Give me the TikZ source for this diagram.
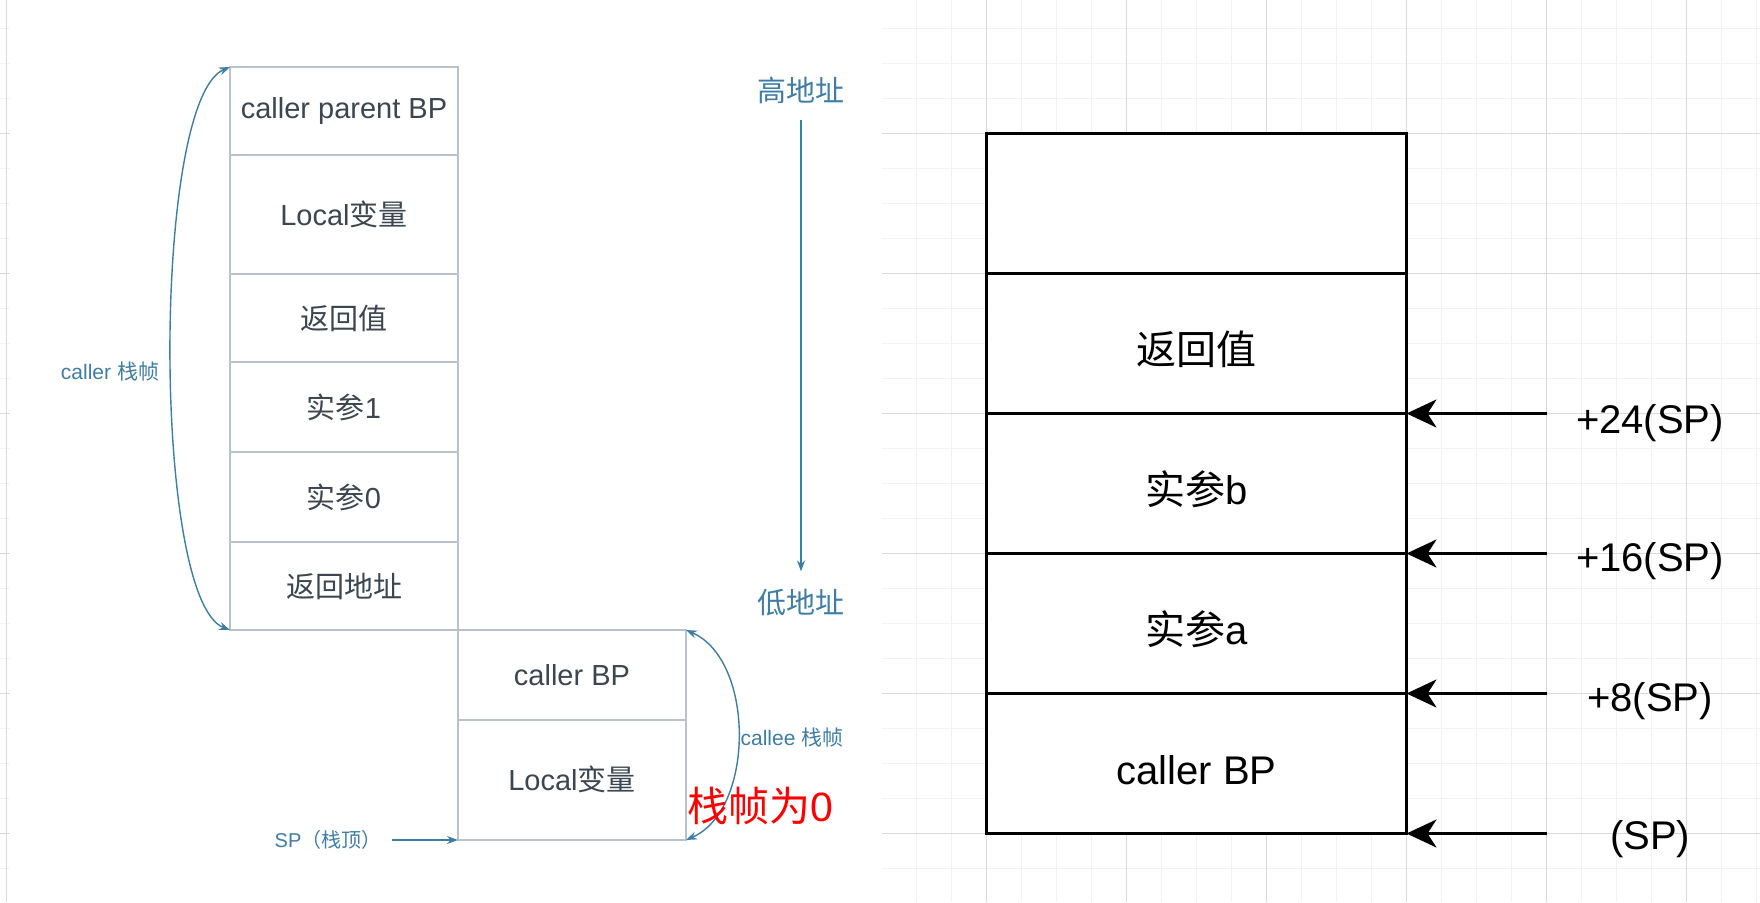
\documentclass[tikz,border=0pt]{standalone}
\usepackage{fontspec}
\setmainfont{Liberation Sans}
\newfontfamily\cjk{Noto Sans CJK SC}
\usetikzlibrary{arrows.meta}
\definecolor{lline}{HTML}{B7C2CA}
\definecolor{ltext}{HTML}{3B4650}
\definecolor{lblue}{HTML}{3E7DA6}
\definecolor{gminor}{HTML}{F2F2F2}
\definecolor{gmajor}{HTML}{D9D9D9}
\begin{document}
\begin{tikzpicture}[x=1pt,y=-1pt,
  lcell/.style={draw=lline, fill=white, line width=2pt, minimum width=228pt, inner sep=0pt, outer sep=0pt,
    text=ltext, font=\fontsize{29}{29}\selectfont, anchor=north west},
  rcell/.style={draw=black, fill=white, line width=3pt, minimum width=420pt, minimum height=140pt, inner sep=0pt, outer sep=0pt,
    font=\fontsize{40}{40}\selectfont, anchor=north west, text height=42pt, text depth=1pt},
  llabel/.style={text=lblue, font=\fontsize{21}{21}\selectfont, inner sep=0pt},
  hlabel/.style={text=lblue, font=\fontsize{29}{29}\selectfont\cjk, inner sep=0pt},
  lcurve/.style={draw=lblue, line width=1.4pt, {Stealth[length=11pt,width=8pt]}-{Stealth[length=11pt,width=8pt]}},
  larrow/.style={draw=lblue, line width=1.4pt, -{Stealth[length=11pt,width=8pt]}},
  rarrow/.style={draw=black, line width=3pt, -{Stealth[length=30pt,width=28pt,inset=9pt]}},
  rlabel/.style={font=\fontsize{40}{40}\selectfont, inner sep=0pt},
]
\useasboundingbox (0,0) rectangle (1760,902);
\fill[white] (0,0) rectangle (1760,902);
% grid
\foreach \i in {0,...,50} {\draw[gminor, line width=1.2pt] ({6.5+35*\i},0) -- ({6.5+35*\i},902);}
\foreach \j in {0,...,26} {\draw[gminor, line width=1.2pt] (0,{-6.5+35*\j}) -- (1760,{-6.5+35*\j});}
\foreach \i in {0,...,12} {\draw[gmajor, line width=1.2pt] ({6.5+140*\i},0) -- ({6.5+140*\i},902);}
\foreach \j in {0,...,7} {\draw[gmajor, line width=1.2pt] (0,{-6.5+140*\j}) -- (1760,{-6.5+140*\j});}
% left screenshot background
\fill[white] (10,0) rectangle (882,902);

% left: caller frame
\node[lcell, minimum height=88pt]  (L1) at (230,67)  {caller parent BP};
\node[lcell, minimum height=119pt] (L2) at (230,155) {Local{\cjk 变量}};
\node[lcell, minimum height=88pt]  (L3) at (230,274) {\cjk 返回值};
\node[lcell, minimum height=90pt]  (L4) at (230,362) {{\cjk 实参}1};
\node[lcell, minimum height=90pt]  (L5) at (230,452) {{\cjk 实参}0};
\node[lcell, minimum height=88pt]  (L6) at (230,542) {\cjk 返回地址};
% callee frame
\node[lcell, minimum height=89.5pt]  (C1) at (458,630)   {caller BP};
\node[lcell, minimum height=120.5pt] (C2) at (458,719.5) {Local{\cjk 变量}};

\draw[lcurve] (L6.south west) .. controls (152,600) and (152,100) .. (L1.north west);
\node[llabel] (callerlbl) at (110,371.5) {caller {\cjk 栈帧}};

\draw[lcurve] (C1.north east) .. controls (755,660) and (755,810) .. (C2.south east);
\node[llabel] (calleelbl) at (792,738) {callee {\cjk 栈帧}};
\node[text=red, font=\fontsize{41}{41}\selectfont, inner sep=0pt] (zero) at (760,806) {{\cjk 栈帧为}0};

\node[llabel, font=\fontsize{20}{20}\selectfont] (sp) at (328,840) {SP{\cjk （栈顶）}};
\draw[larrow] ([xshift=10pt]sp.east) -- (C2.south west);

\node[hlabel] (hi) at (801,90) {高地址};
\node[hlabel] (lo) at (801,603) {低地址};
\draw[larrow, shorten <=16pt, shorten >=18pt] (hi.south) -- (lo.north);

% right panel
\node[rcell] (R1) at (986.5,133.5) {};
\node[rcell] (R2) at (986.5,273.5) {\cjk 返回值};
\node[rcell] (R3) at (986.5,413.5) {{\cjk 实参}b};
\node[rcell] (R4) at (986.5,553.5) {{\cjk 实参}a};
\node[rcell] (R5) at (986.5,693.5) {caller BP};

\coordinate (a24) at (1546.5,413.5);
\coordinate (a16) at (1546.5,553.5);
\coordinate (a8)  at (1546.5,693.5);
\coordinate (a0)  at (1546.5,833.5);
\draw[rarrow] (a24) -- (R2.south east);
\draw[rarrow] (a16) -- (R3.south east);
\draw[rarrow] (a8)  -- (R4.south east);
\draw[rarrow] (a0)  -- (R5.south east);
\node[rlabel] (t24) at (1650,423) {+24(SP)};
\node[rlabel] (t16) at (1650,561) {+16(SP)};
\node[rlabel] (t8)  at (1650,701) {+8(SP)};
\node[rlabel] (t0)  at (1650,839) {(SP)};
\end{tikzpicture}
\end{document}
